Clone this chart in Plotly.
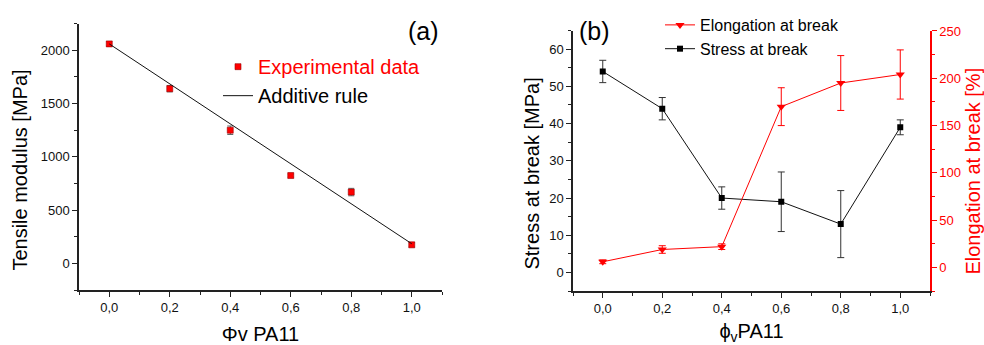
import plotly.graph_objects as go

W, H = 984, 345

# ---- data: panel (a)
phi = [0.0, 0.2, 0.4, 0.6, 0.8, 1.0]
modulus = [2060, 1640, 1250, 825, 670, 175]
modulus_err = [20, 30, 40, 15, 35, 20]
rule_x = [0.0, 1.0]
rule_y = [2060, 185]

# ---- data: panel (b)
stress = [54, 44, 20, 19, 13, 39]
stress_err = [3, 3, 3, 8, 9, 2]
elong = [6, 19, 22, 170, 195, 204]
elong_err = [2, 4, 3, 20, 29, 26]

RED = "#ff0000"
AX = "#222222"
FONT = "Liberation Sans, Arial, sans-serif"


def px_x(p):
    return p / W


def px_y(p):
    return 1 - p / H


fig = go.Figure()

# panel (a)
fig.add_trace(go.Scatter(
    x=phi, y=modulus, mode="markers",
    marker=dict(symbol="square", size=6, color=RED, line=dict(color="#990000", width=0.6)),
    error_y=dict(type="data", array=modulus_err, color="#666666", thickness=1, width=3),
    name="<span style='color:#ff0000'>Experimental data</span>",
    xaxis="x", yaxis="y", legend="legend"))
fig.add_trace(go.Scatter(
    x=rule_x, y=rule_y, mode="lines",
    line=dict(color="#111111", width=1),
    name="Additive rule", xaxis="x", yaxis="y", legend="legend"))

# panel (b)
fig.add_trace(go.Scatter(
    x=phi, y=elong, mode="lines+markers",
    line=dict(color=RED, width=1),
    marker=dict(symbol="triangle-down", size=8, color=RED),
    error_y=dict(type="data", array=elong_err, color=RED, thickness=1, width=3.5),
    name="Elongation at break", xaxis="x2", yaxis="y3", legend="legend2"))
fig.add_trace(go.Scatter(
    x=phi, y=stress, mode="lines+markers",
    line=dict(color="#111111", width=1),
    marker=dict(symbol="square", size=6, color="#000000"),
    error_y=dict(type="data", array=stress_err, color="#333333", thickness=1, width=3.5),
    name="Stress at break", xaxis="x2", yaxis="y2", legend="legend2"))

tickfont = dict(family=FONT, size=13, color="#111111")
titlefont = dict(family=FONT, size=20, color="#000000")

common_x = dict(
    range=[-0.1, 1.1], tick0=0, dtick=0.2, tickformat=".1f",
    showline=True, linecolor=AX, linewidth=1.5, ticks="outside", ticklen=5,
    tickcolor=AX, tickwidth=1, showgrid=False, zeroline=False, tickfont=tickfont,
    minor=dict(ticks="outside", ticklen=3, tick0=0, dtick=0.1, tickcolor=AX, showgrid=False),
)

fig.update_layout(
    width=W, height=H, autosize=False,
    margin=dict(l=0, r=0, t=0, b=0),
    paper_bgcolor="white", plot_bgcolor="white",
    separators=", ",
    font=dict(family=FONT),
    showlegend=True,
    xaxis=dict(common_x, domain=[px_x(79), px_x(442)], anchor="y",
               title=dict(text="Φv PA11", font=titlefont, standoff=13)),
    yaxis=dict(range=[-250, 2250], tick0=0, dtick=500, domain=[px_y(289), px_y(17)],
               anchor="x", showline=True, linecolor=AX, linewidth=1.5, ticks="outside",
               ticklen=5, tickcolor=AX, showgrid=False, zeroline=False, tickfont=tickfont,
               minor=dict(ticks="outside", ticklen=3, tick0=0, dtick=250, tickcolor=AX, showgrid=False)),
    xaxis2=dict(common_x, domain=[px_x(573), px_x(930)], anchor="y2",
                title=dict(text="ϕ<sub>v</sub>PA11", font=titlefont, standoff=10)),
    yaxis2=dict(range=[-5, 65], tick0=0, dtick=10, domain=[px_y(290), px_y(24)],
                anchor="x2", showline=True, linecolor=AX, linewidth=1.5, ticks="outside",
                ticklen=5, tickcolor=AX, showgrid=False, zeroline=False, tickfont=tickfont,
                minor=dict(ticks="outside", ticklen=3, tick0=0, dtick=5, tickcolor=AX, showgrid=False)),
    yaxis3=dict(range=[-25, 250.5], tick0=0, dtick=50, overlaying="y2", side="right",
                anchor="x2", showline=True, linecolor=RED, linewidth=1.5, ticks="outside",
                ticklen=5, tickcolor=RED, showgrid=False, zeroline=False,
                tickfont=dict(family=FONT, size=13, color=RED),
                minor=dict(ticks="outside", ticklen=3, tick0=0, dtick=25, tickcolor=RED, showgrid=False)),
    legend=dict(x=px_x(218), y=px_y(41), xanchor="left", yanchor="top",
                bgcolor="rgba(0,0,0,0)", font=dict(family=FONT, size=20, color="#000000"),
                tracegroupgap=0, itemwidth=30),
    legend2=dict(x=px_x(660), y=px_y(1), xanchor="left", yanchor="top",
                 bgcolor="rgba(0,0,0,0)", font=dict(family=FONT, size=16, color="#000000"),
                 tracegroupgap=0, itemwidth=30),
    annotations=[
        dict(text="(a)", x=px_x(423), y=px_y(24), xref="paper", yref="paper",
             xanchor="center", yanchor="middle",
             showarrow=False, font=dict(family=FONT, size=25, color="#000000")),
        dict(text="(b)", x=px_x(594), y=px_y(25), xref="paper", yref="paper",
             xanchor="center", yanchor="middle",
             showarrow=False, font=dict(family=FONT, size=25, color="#000000")),
        dict(text="Tensile modulus [MPa]", x=px_x(20), y=px_y(167), xref="paper", yref="paper",
             xanchor="center", yanchor="middle", textangle=-90,
             showarrow=False, font=titlefont),
        dict(text="Stress at break [MPa]", x=px_x(532), y=px_y(170), xref="paper", yref="paper",
             xanchor="center", yanchor="middle", textangle=-90,
             showarrow=False, font=titlefont),
        dict(text="Elongation at break [%]", x=px_x(973), y=px_y(168), xref="paper", yref="paper",
             xanchor="center", yanchor="middle", textangle=-90,
             showarrow=False, font=dict(family=FONT, size=20, color=RED)),
    ],
)

fig.write_html("out.html")
